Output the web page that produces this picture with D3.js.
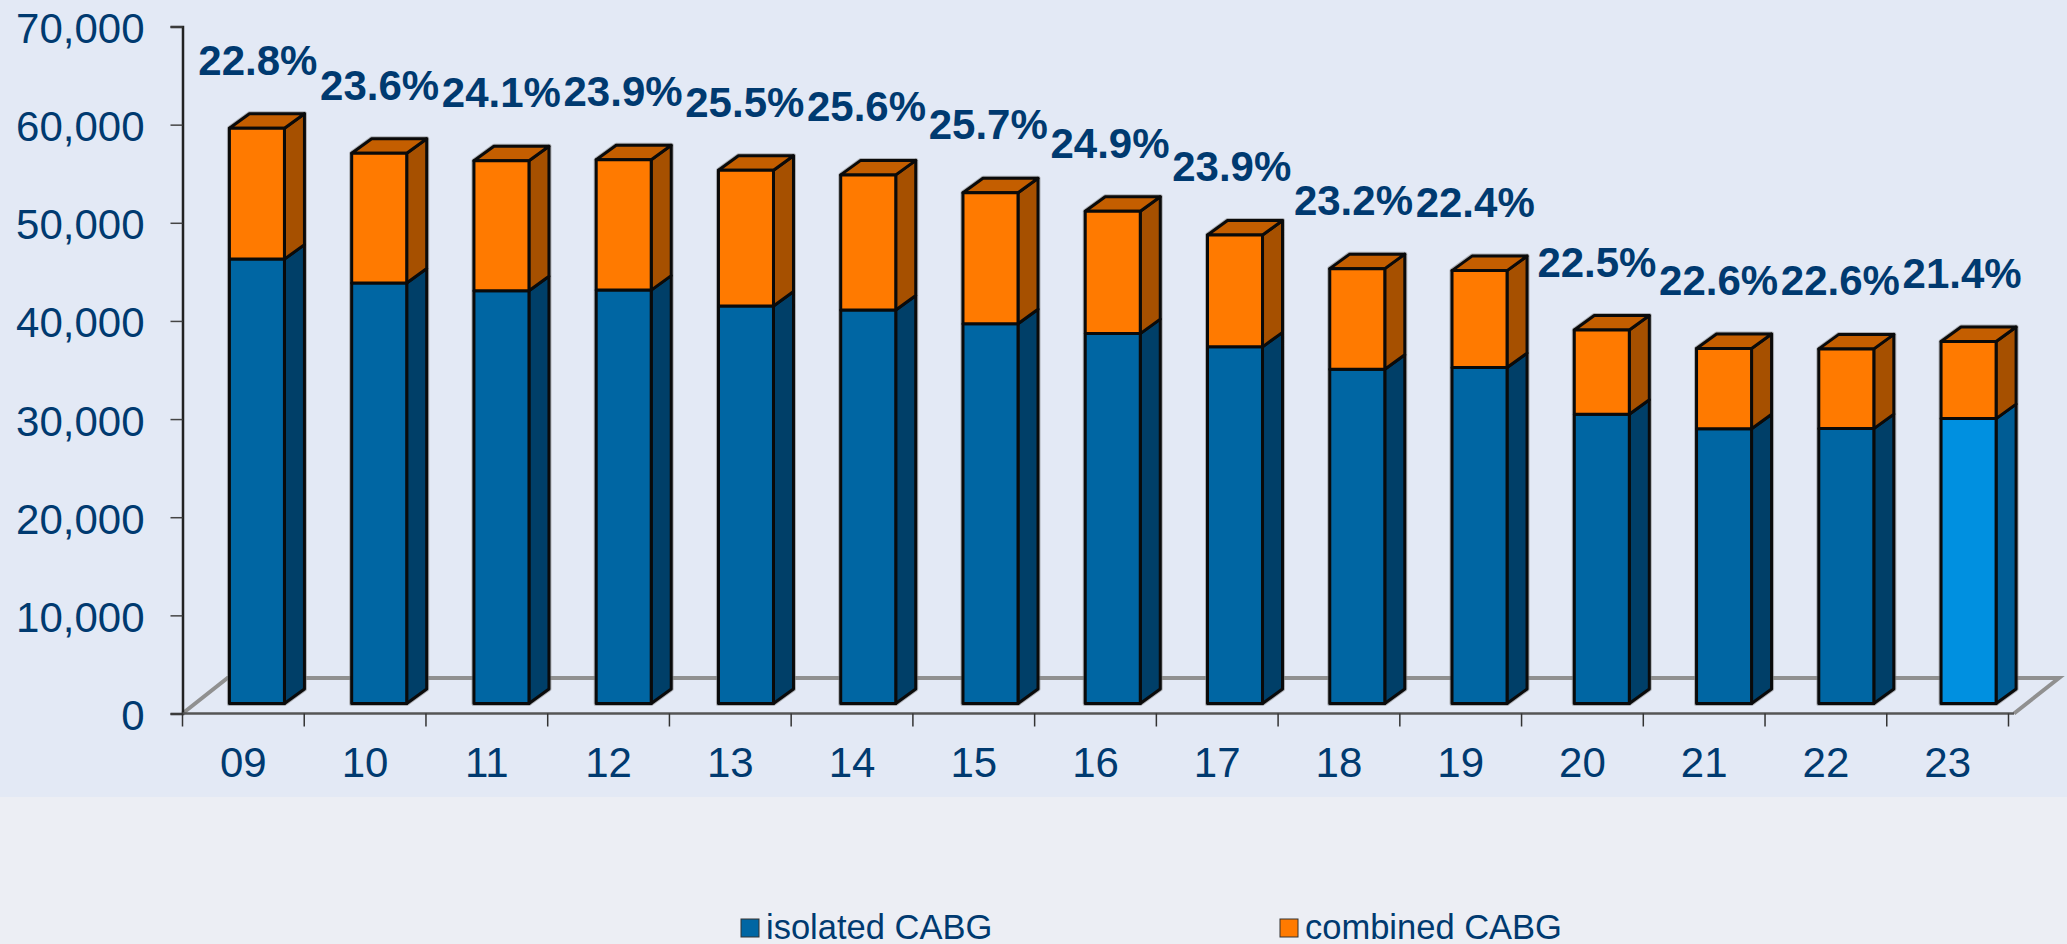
<!DOCTYPE html>
<html>
<head>
<meta charset="utf-8">
<script src="https://cdn.jsdelivr.net/npm/d3@7"></script>
<style>
  html, body { margin: 0; padding: 0; background: #ECEEF4; overflow: hidden; }
  svg { display: block; font-family: "Liberation Sans", Arial, sans-serif; }
  .tick-label { fill: #003A70; font-size: 42px; }
  .pct { fill: #003A70; font-size: 42px; font-weight: bold; text-anchor: middle; }
  .legend { fill: #003A70; font-size: 34.5px; }
</style>
</head>
<body>
<svg></svg>
<script>
const years = ['09', '10', '11', '12', '13', '14', '15', '16', '17', '18', '19', '20', '21', '22', '23'];
const isolated = [45280, 42840, 42050, 42120, 40510, 40100, 38700, 37690, 36340, 34060, 34230, 29480, 28000, 28010, 29030];
const combined = [13340, 13220, 13250, 13280, 13820, 13760, 13340, 12470, 11400, 10250, 9880, 8570, 8170, 8120, 7850];
const percents = ['22.8%', '23.6%', '24.1%', '23.9%', '25.5%', '25.6%', '25.7%', '24.9%', '23.9%', '23.2%', '22.4%', '22.5%', '22.6%', '22.6%', '21.4%'];
const yTicks = [0, 10000, 20000, 30000, 40000, 50000, 60000, 70000];
const legendLabels = ['isolated CABG', 'combined CABG'];

const WIDTH = 2067;
const HEIGHT = 944;
const PANEL_HEIGHT = 797;

// pseudo 3d: bars stand in the middle of the floor
const BAR_LIFT = 10;
const DEPTH_X = 20;
const DEPTH_Y = 14.5;
const FLOOR_X = 45;
const FLOOR_Y = 35.5;

const xAxis = d3.scaleBand().domain(years).range([182.5, 2008.5]);
const xBar = d3.scaleBand().domain(years).range([195.8, 2029.7]).paddingInner(0.55).paddingOuter(0.275);
const yAxis = d3.scaleLinear().domain([0, 70000]).range([713.5, 26.5]);

const y = v => yAxis(v) - BAR_LIFT;

const colors = {
  blue: { front: '#0066A3', side: '#003F68' },
  lightBlue: { front: '#0090E0', side: '#005C94' },
  orange: { front: '#FF7A00', side: '#A65000', top: '#C45E00' }
};

const svg = d3.select('svg').attr('width', WIDTH).attr('height', HEIGHT);

svg.append('rect').attr('width', WIDTH).attr('height', PANEL_HEIGHT).attr('fill', '#E3E9F5');

// floor
const x0 = xAxis.range()[0];
const x1 = 2014;
const y0 = yAxis(0);
svg.append('path')
  .attr('d', `M${x0},${y0}L${x0 + FLOOR_X},${y0 - FLOOR_Y}L${x1 + FLOOR_X},${y0 - FLOOR_Y}L${x1},${y0}`)
  .attr('fill', 'none')
  .attr('stroke', '#909090')
  .attr('stroke-width', 4);

// bars
const stacks = years.map((year, i) => ({
  year,
  i,
  left: xBar(year),
  right: xBar(year) + xBar.bandwidth(),
  bottom: y(0),
  mid: y(isolated[i]),
  top: y(isolated[i] + combined[i]),
  blue: year === '23' ? colors.lightBlue : colors.blue
}));

const sidePath = (d, a, b) =>
  `M${d.right},${a}L${d.right + DEPTH_X},${a - DEPTH_Y}L${d.right + DEPTH_X},${b - DEPTH_Y}L${d.right},${b}Z`;

const bars = svg.selectAll('.bar')
  .data(stacks)
  .enter()
  .append('g')
  .classed('bar', true)
  .attr('stroke', '#0A0A0A')
  .attr('stroke-width', 3)
  .attr('stroke-linejoin', 'round');

// soft grey halo behind each bar
bars.append('path')
  .attr('d', d => `M${d.left},${d.bottom}L${d.left},${d.top}L${d.left + DEPTH_X},${d.top - DEPTH_Y}L${d.right + DEPTH_X},${d.top - DEPTH_Y}L${d.right + DEPTH_X},${d.bottom - DEPTH_Y}L${d.right},${d.bottom}Z`)
  .attr('fill', 'none')
  .attr('stroke', '#808080')
  .attr('stroke-opacity', 0.55)
  .attr('stroke-width', 5);

bars.append('path')
  .attr('d', d => sidePath(d, d.mid, d.bottom))
  .attr('fill', d => d.blue.side);

bars.append('path')
  .attr('d', d => sidePath(d, d.top, d.mid))
  .attr('fill', colors.orange.side);

bars.append('path')
  .attr('d', d => `M${d.left},${d.top}L${d.left + DEPTH_X},${d.top - DEPTH_Y}L${d.right + DEPTH_X},${d.top - DEPTH_Y}L${d.right},${d.top}Z`)
  .attr('fill', colors.orange.top);

bars.append('rect')
  .attr('x', d => d.left)
  .attr('y', d => d.mid)
  .attr('width', xBar.bandwidth())
  .attr('height', d => d.bottom - d.mid)
  .attr('fill', d => d.blue.front);

bars.append('rect')
  .attr('x', d => d.left)
  .attr('y', d => d.top)
  .attr('width', xBar.bandwidth())
  .attr('height', d => d.mid - d.top)
  .attr('fill', colors.orange.front);

// percent labels
svg.selectAll('.pct')
  .data(stacks)
  .enter()
  .append('text')
  .classed('pct', true)
  .text(d => percents[d.i])
  .attr('x', d => xAxis(d.year) + xAxis.bandwidth() / 2 + 14.5)
  .attr('y', d => d.top - 53.5);

// y axis
const leftAxis = svg.append('g')
  .attr('transform', `translate(${x0},0)`)
  .call(d3.axisLeft(yAxis).tickValues(yTicks).tickSize(12).tickPadding(26).tickFormat(d3.format(',')));
leftAxis.select('.domain').attr('stroke', '#222').attr('stroke-width', 2.5);
leftAxis.selectAll('.tick line').attr('stroke', '#444').attr('stroke-width', 1.5);
leftAxis.selectAll('.tick text')
  .classed('tick-label', true)
  .attr('dy', '0.38em')
  .attr('font-size', null)
  .attr('font-family', null)
  .attr('fill', null);

// x axis: labels from the axis, ticks sit on the band edges
const bottomAxis = svg.append('g')
  .attr('transform', `translate(0,${y0})`)
  .call(d3.axisBottom(xAxis).tickSize(0).tickPadding(34));
bottomAxis.select('.domain').attr('d', `M${x0},0L${x1},0`).attr('stroke', '#555').attr('stroke-width', 2.5);
bottomAxis.selectAll('.tick text').classed('tick-label', true).attr('font-size', null).attr('font-family', null).attr('fill', null);
bottomAxis.selectAll('.edge')
  .data(years.concat('end'))
  .enter()
  .append('line')
  .classed('edge', true)
  .attr('x1', (d, i) => x0 + i * xAxis.step())
  .attr('x2', (d, i) => x0 + i * xAxis.step())
  .attr('y1', 0)
  .attr('y2', 13)
  .attr('stroke', '#333')
  .attr('stroke-width', 1.5);

// legend
const legendX = [741, 1280];
const legendFill = [colors.blue.front, colors.orange.front];
const legend = svg.selectAll('.legend-item')
  .data(legendLabels)
  .enter()
  .append('g')
  .classed('legend-item', true)
  .attr('transform', (d, i) => `translate(${legendX[i]},0)`);
legend.append('rect')
  .attr('y', 919)
  .attr('width', 18)
  .attr('height', 18)
  .attr('fill', (d, i) => legendFill[i])
  .attr('stroke', '#333')
  .attr('stroke-width', 1);
legend.append('text')
  .classed('legend', true)
  .text(d => d)
  .attr('x', 25)
  .attr('y', 939);
</script>
</body>
</html>
